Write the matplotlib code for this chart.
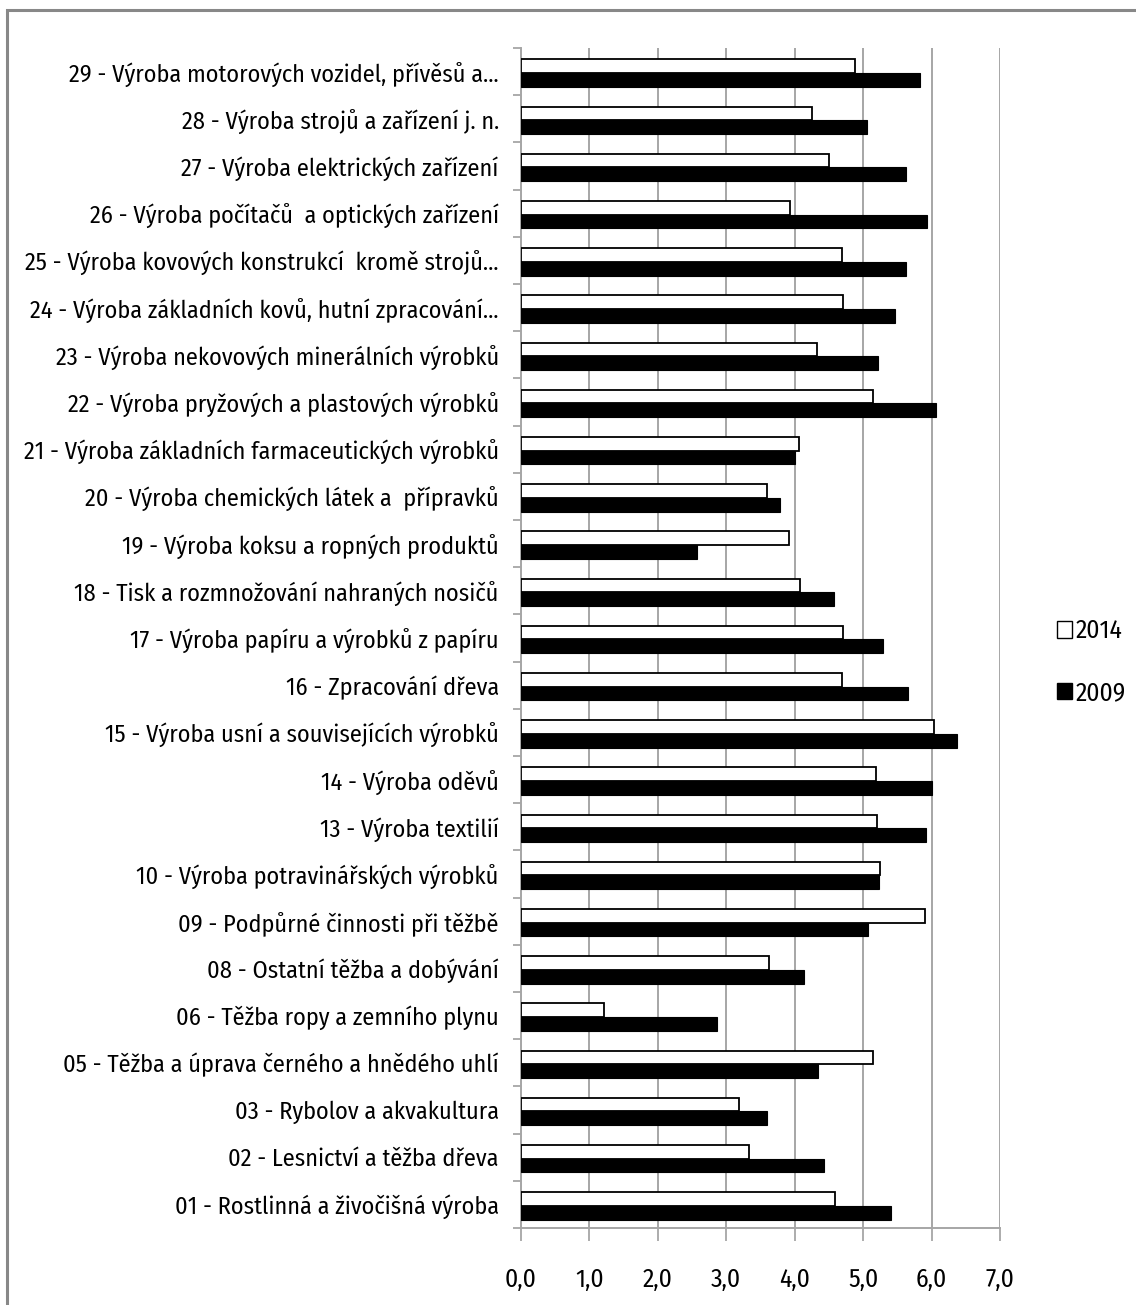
import matplotlib
matplotlib.use("Agg")
import matplotlib.pyplot as plt
from matplotlib.patches import Patch, Rectangle
from matplotlib import font_manager as fm

categories = [
    "01 - Rostlinná a živočišná výroba",
    "02 - Lesnictví a těžba dřeva",
    "03 - Rybolov a akvakultura",
    "05 - Těžba a úprava černého a hnědého uhlí",
    "06 - Těžba ropy a zemního plynu",
    "08 - Ostatní těžba a dobývání",
    "09 - Podpůrné činnosti při těžbě",
    "10 - Výroba potravinářských výrobků",
    "13 - Výroba textilií",
    "14 - Výroba oděvů",
    "15 - Výroba usní a souvisejících výrobků",
    "16 - Zpracování dřeva",
    "17 - Výroba papíru a výrobků z papíru",
    "18 - Tisk a rozmnožování nahraných nosičů",
    "19 - Výroba koksu a ropných produktů",
    "20 - Výroba chemických látek a  přípravků",
    "21 - Výroba základních farmaceutických výrobků",
    "22 - Výroba pryžových a plastových výrobků",
    "23 - Výroba nekovových minerálních výrobků",
    "24 - Výroba základních kovů, hutní zpracování…",
    "25 - Výroba kovových konstrukcí  kromě strojů…",
    "26 - Výroba počítačů  a optických zařízení",
    "27 - Výroba elektrických zařízení",
    "28 - Výroba strojů a zařízení j. n.",
    "29 - Výroba motorových vozidel, přívěsů a…",
]
values_2014 = [4.59, 3.33, 3.18, 5.15, 1.22, 3.62, 5.90, 5.24, 5.20, 5.19,
               6.03, 4.69, 4.71, 4.08, 3.91, 3.59, 4.06, 5.15, 4.33, 4.71,
               4.69, 3.93, 4.50, 4.25, 4.88]
values_2009 = [5.40, 4.43, 3.59, 4.34, 2.86, 4.13, 5.07, 5.23, 5.92, 6.00,
               6.37, 5.65, 5.29, 4.58, 2.57, 3.78, 4.00, 6.06, 5.21, 5.46,
               5.63, 5.94, 5.63, 5.05, 5.83]
series_names = ["2014", "2009"]
xticks = [0, 1, 2, 3, 4, 5, 6, 7]
xtick_labels = ["0,0", "1,0", "2,0", "3,0", "4,0", "5,0", "6,0", "7,0"]

names = {f.name for f in fm.fontManager.ttflist}
prefs = ["Fira Sans Condensed", "Roboto Condensed", "PT Sans Narrow",
         "Open Sans Condensed", "Encode Sans Condensed", "Asap Condensed",
         "IBM Plex Sans Condensed", "Archivo Narrow", "Liberation Sans Narrow",
         "Carlito", "Lato", "Open Sans"]
fam = next((p for p in prefs if p in names), "DejaVu Sans")
plt.rcParams["font.family"] = [fam, "DejaVu Sans"]

W, H = 1136, 1305
fig = plt.figure(figsize=(W / 100, H / 100), dpi=100)
ax = fig.add_axes([521 / W, 1 - 1228 / H, (1000 - 521) / W, (1228 - 48) / H])

grid_c = "#a6a6a6"
n = len(categories)
y = list(range(n))
h = 0.29
ax.barh([v + h / 2 - 0.03 for v in y], values_2014, height=h, color="white",
        edgecolor="black", linewidth=1.3, zorder=3)
ax.barh([v - h / 2 - 0.03 for v in y], values_2009, height=h, color="black",
        edgecolor="black", linewidth=0.8, zorder=3)

ax.set_xlim(0, 7)
ax.set_ylim(-0.5, n - 0.5)
ax.set_xticks(xticks)
xt = ax.set_xticklabels(xtick_labels, fontsize=17)
ax.set_yticks([k - 0.5 for k in range(n + 1)])
ax.set_yticklabels([])
ax.set_yticks(y, minor=True)
yt = ax.set_yticklabels(categories, minor=True, fontsize=17)
ax.tick_params(axis="y", which="minor", length=0, pad=16)
ax.tick_params(axis="y", which="major", length=6, width=1.3, color=grid_c)
ax.tick_params(axis="x", length=9, width=1.3, color=grid_c, pad=19)
ax.xaxis.grid(True, color=grid_c, linewidth=1.4, zorder=0)
ax.set_axisbelow(True)
for s in ["top", "right"]:
    ax.spines[s].set_visible(False)
for s in ["left", "bottom"]:
    ax.spines[s].set_color(grid_c)
    ax.spines[s].set_linewidth(1.4)

# fit the font size so the longest label spans about as wide as in the reference
fig.canvas.draw()
r = fig.canvas.get_renderer()
wpx = yt[16].get_window_extent(r).width
fs = min(17 * 475 / wpx, 20)
for t in yt:
    t.set_fontsize(fs)
for t in xt:
    t.set_fontsize(fs * 1.05)

handles = [Patch(facecolor="white", edgecolor="black", linewidth=1.0),
           Patch(facecolor="black", edgecolor="black")]
fig.legend(handles, series_names, loc="center left",
           bbox_to_anchor=(1034 / W, 1 - 662 / H), frameon=False,
           fontsize=fs * 1.05, handlelength=0.6, handleheight=0.6,
           handletextpad=0.15, labelspacing=1.45)

fig.patches.append(Rectangle((7 / W, -0.1), 1.2, 1 - 10 / H + 0.1,
                             transform=fig.transFigure, fill=False,
                             edgecolor="#888888", linewidth=2.2))
fig.savefig("out.png", dpi=100)
